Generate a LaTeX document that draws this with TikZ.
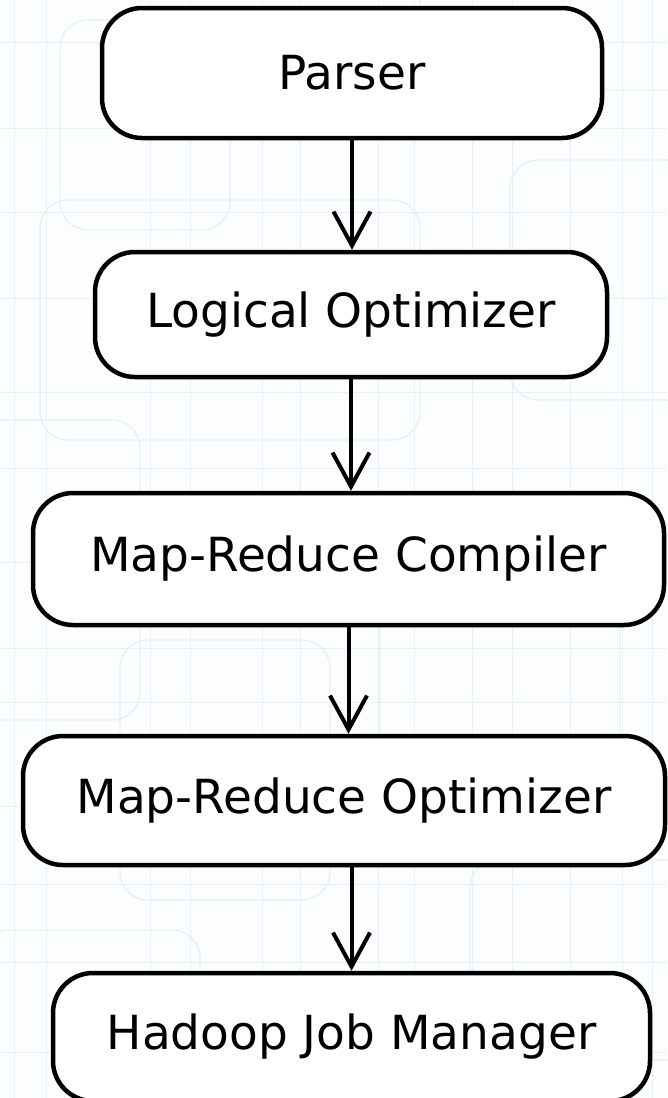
\documentclass[tikz,border=0pt]{standalone}
\usepackage{fontspec}
\setmainfont{DejaVu Sans}
\usetikzlibrary{arrows.meta}
\definecolor{grille}{RGB}{228,242,246}
\definecolor{fond}{RGB}{251,253,254}

\begin{document}
\begin{tikzpicture}[x=1pt,y=-1pt,
  etape/.style={draw=black,line width=4.5pt,fill=white,rounded corners=40pt,inner sep=0pt,font=\fontsize{47}{56}\selectfont},
  fleche/.style={line width=4pt,-{Straight Barb[length=34pt,width=37pt]}}]
\useasboundingbox (0,0) rectangle (667,1098);
\fill[fond] (0,0) rectangle (667,1098);
% quadrillage du fond
\foreach \x in {14,46,150,190,262,300,378,414,472,512,570,622,652}
  \draw[grille,line width=1pt] (\x,0)--(\x,1098);
\foreach \y in {42,128,212,298,392,468,562,648,702,806,884,962,1052}
  \draw[grille,line width=1pt] (0,\y)--(667,\y);
\foreach \a/\b/\c/\d in {60/20/230/230, 420/-30/700/90, 40/200/420/440, 510/160/700/400, -30/420/140/720, 380/560/620/780, 120/640/330/900, 470/860/720/1060, -20/930/200/1130, 260/1000/520/1140}
  \draw[grille,line width=1.3pt,rounded corners=28pt] (\a,\b) rectangle (\c,\d);

% les etapes
\node[etape,minimum width=500pt,minimum height=130pt] (parser) at (352,73) {Parser};
\node[etape,minimum width=512pt,minimum height=125pt] (logique) at (351,314.5) {Logical Optimizer};
\node[etape,minimum width=631pt,minimum height=132pt] (compilo) at (348.5,559) {Map-Reduce Compiler};
\node[etape,minimum width=642pt,minimum height=129pt] (optim) at (344,800.5) {Map-Reduce Optimizer};
\node[etape,minimum width=597pt,minimum height=128pt] (hadoop) at (351.5,1037) {Hadoop Job Manager};

% fleches
\draw[fleche] (parser.south) -- (parser.south |- logique.north);
\draw[fleche] (logique.south) -- (logique.south |- compilo.north);
\draw[fleche] (compilo.south) -- (compilo.south |- optim.north);
\draw[fleche] (hadoop.north |- optim.south) -- (hadoop.north);
\end{tikzpicture}
\end{document}
